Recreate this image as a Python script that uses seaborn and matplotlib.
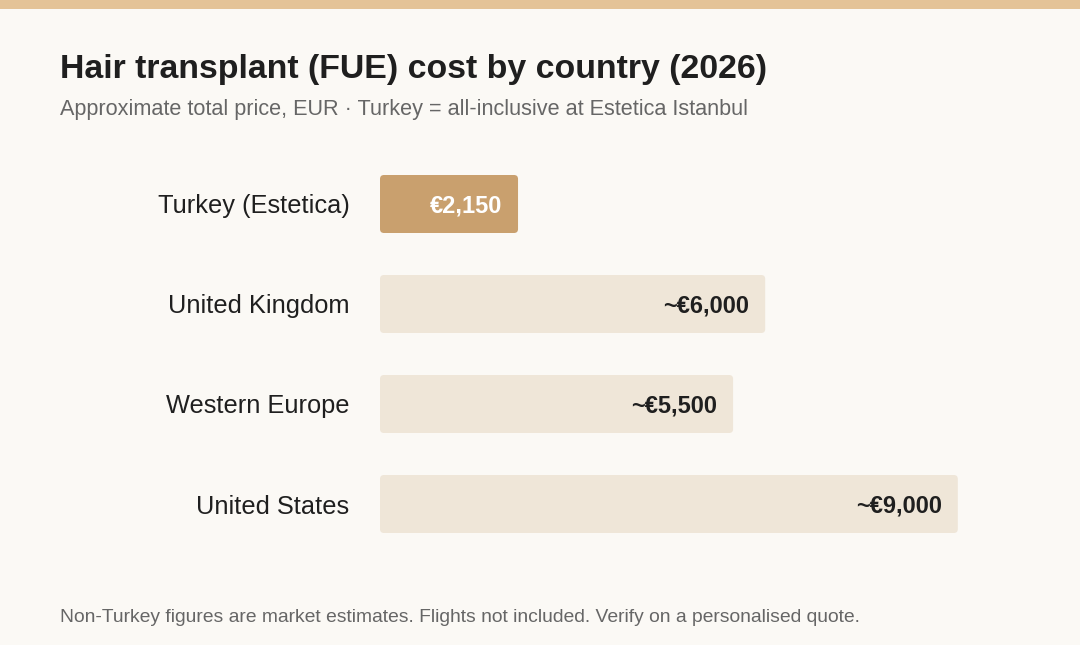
import seaborn as sns
import matplotlib.pyplot as plt
import pandas as pd
from matplotlib.patches import FancyBboxPatch, Rectangle

# data
countries = ["Turkey (Estetica)", "United Kingdom", "Western Europe", "United States"]
prices = [2150, 6000, 5500, 9000]
value_labels = ["€2,150", "~€6,000", "~€5,500", "~€9,000"]

title = "Hair transplant (FUE) cost by country (2026)"
subtitle = "Approximate total price, EUR · Turkey = all-inclusive at Estetica Istanbul"
footnote = "Non-Turkey figures are market estimates. Flights not included. Verify on a personalised quote."

df = pd.DataFrame({"country": countries, "price": prices})

BG = "#FBF9F5"
ACCENT = "#C9A06E"
MUTED = "#EFE6D8"
DARK = "#1F1F1F"
GREY = "#666666"
FONT = "Liberation Sans"

sns.set_style("white")
plt.rcParams["font.family"] = "sans-serif"
plt.rcParams["font.sans-serif"] = [FONT, "DejaVu Sans"]

W, H = 1080, 645
fig = plt.figure(figsize=(W / 100, H / 100), dpi=100, facecolor=BG)

# axes: x=0 at px 380, 10000 at px 1022; rows centred at 204..504 px
ax_l, ax_r, ax_t, ax_b = 380, 1022, 154, 554
ax = fig.add_axes([ax_l / W, 1 - ax_b / H, (ax_r - ax_l) / W, (ax_b - ax_t) / H])
ax.set_facecolor(BG)

colors = [ACCENT] + [MUTED] * (len(countries) - 1)
sns.barplot(data=df, x="price", y="country", hue="country", palette=colors,
            orient="h", width=0.58, saturation=1, legend=False, ax=ax)
ax.set_xlim(0, 10000)
ax.set_ylim(3.5, -0.5)

# swap plain bars for rounded ones
xu = 10000 / (ax_r - ax_l)
yu = 4 / (ax_b - ax_t)
for p in list(ax.patches):
    x, y, w, h = p.get_x(), p.get_y(), p.get_width(), p.get_height()
    fc = p.get_facecolor()
    p.remove()
    ax.add_patch(FancyBboxPatch((x, y), w, h,
                                boxstyle=f"round,pad=0,rounding_size={4 * xu}",
                                mutation_aspect=yu / xu, facecolor=fc,
                                edgecolor="none"))

for i, (v, lab) in enumerate(zip(prices, value_labels)):
    ax.annotate(lab, (v, i), xytext=(-16 * 0.72, 0), textcoords="offset points",
                ha="right", va="center_baseline", fontsize=17, fontweight="bold",
                family=FONT, color="white" if i == 0 else DARK)

ax.set_xlabel("")
ax.set_ylabel("")
ax.set_xticks([])
ax.tick_params(axis="y", length=0, pad=22, labelsize=18.3, labelcolor=DARK)
for t in ax.get_yticklabels():
    t.set_family(FONT)
sns.despine(ax=ax, left=True, bottom=True)

# top accent band
fig.patches.append(Rectangle((0, 1 - 8.5 / H), 1, 8.5 / H, transform=fig.transFigure,
                             facecolor="#E4C397", edgecolor="none", zorder=0))

fig.text(60 / W, 1 - 78 / H, title, fontsize=24.4, fontweight="bold", color=DARK,
         va="baseline", family=FONT)
fig.text(60 / W, 1 - 115 / H, subtitle, fontsize=15.6, color=GREY, va="baseline",
         family=FONT)
fig.text(60 / W, 1 - 622 / H, footnote, fontsize=13.9, color=GREY, va="baseline",
         family=FONT)

fig.savefig("out.png", dpi=100, facecolor=BG)
plt.close(fig)
